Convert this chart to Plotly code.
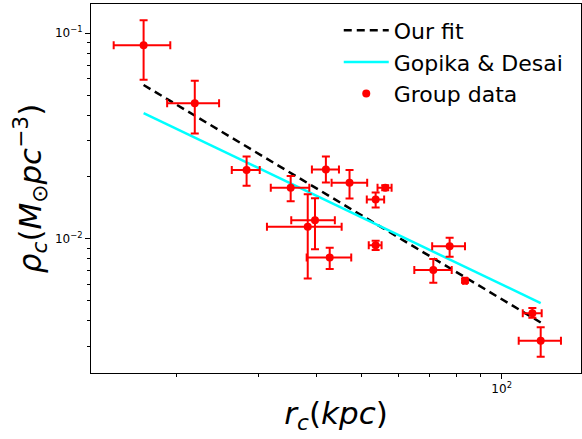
import plotly.graph_objects as go

# ---- data (log-log) ----
r_c = [17.0, 21.9, 28.3, 35.2, 41.9, 47.1, 56.2, 53.6, 38.3, 39.7, 42.7, 53.6, 77.3, 71.3, 83.4, 116.4, 121.3]
r_lo = [14.66, 19.1, 26.3, 31.9, 39.1, 43.1, 54.1, 51.3, 31.3, 35.3, 38.1, 51.8, 70.9, 64.9, 82.6, 111.0, 108.8]
r_hi = [19.4, 24.7, 30.2, 38.6, 44.7, 51.4, 58.0, 55.9, 45.3, 43.8, 47.5, 55.2, 83.4, 78.1, 84.2, 121.9, 134.1]
rho = [0.0874, 0.0456, 0.0216, 0.0177, 0.0217, 0.0187, 0.0177, 0.0155, 0.01144, 0.0123, 0.00811, 0.00929, 0.00918, 0.00704, 0.00624, 0.00434, 0.00319]
rho_lo = [0.0594, 0.0325, 0.0181, 0.0152, 0.0188, 0.0157, 0.0172, 0.0142, 0.00641, 0.00888, 0.00712, 0.00881, 0.00817, 0.0061, 0.0061, 0.00412, 0.00266]
rho_hi = [0.1157, 0.0588, 0.0251, 0.0202, 0.0251, 0.0216, 0.0182, 0.0168, 0.01647, 0.01574, 0.00904, 0.00978, 0.01011, 0.00796, 0.0064, 0.0046, 0.00371]

fit_x = [17.0, 121.3]
fit_y = [0.056, 0.00391]
gd_x = [17.0, 121.3]
gd_y = [0.0409, 0.00486]

x_minor = [20, 30, 40, 50, 60, 70, 80, 90]
y_minor = [0.003, 0.004, 0.005, 0.006, 0.007, 0.008, 0.009, 0.02, 0.03, 0.04, 0.05, 0.06, 0.07, 0.08, 0.09]

ex_plus = [h - v for h, v in zip(r_hi, r_c)]
ex_minus = [v - l for l, v in zip(r_lo, r_c)]
ey_plus = [h - v for h, v in zip(rho_hi, rho)]
ey_minus = [v - l for l, v in zip(rho_lo, rho)]

FONT = "DejaVu Sans"

fig = go.Figure()
fig.add_trace(go.Scatter(x=fit_x, y=fit_y, mode="lines", name="Our fit",
                         line=dict(color="black", width=2.5, dash="8px,5px")))
fig.add_trace(go.Scatter(x=gd_x, y=gd_y, mode="lines", name="Gopika & Desai",
                         line=dict(color="#00FFFF", width=2.5)))
fig.add_trace(go.Scatter(x=r_c, y=rho, mode="markers", name="Group data",
                         marker=dict(color="red", size=8),
                         error_x=dict(type="data", array=ex_plus, arrayminus=ex_minus,
                                      color="red", thickness=2, width=4),
                         error_y=dict(type="data", array=ey_plus, arrayminus=ey_minus,
                                      color="red", thickness=2, width=4)))

fig.update_layout(
    width=582, height=439,
    margin=dict(l=91, r=1, t=4, b=66),
    paper_bgcolor="white", plot_bgcolor="white",
    font=dict(family=FONT, color="black"),
    showlegend=True,
    legend=dict(x=0.975, y=0.985, xanchor="right", yanchor="top",
                font=dict(size=22, family=FONT), bgcolor="rgba(0,0,0,0)",
                itemwidth=45, tracegroupgap=2),
)

fig.update_xaxes(
    type="log", range=[1.1174, 2.1705],
    showline=True, linecolor="black", linewidth=1, mirror=True,
    showgrid=False, zeroline=False,
    ticks="outside", ticklen=5, tickcolor="black",
    tickmode="array", tickvals=[100], ticktext=["10<sup>2</sup>"],
    tickfont=dict(size=12, family=FONT),
    minor=dict(tickmode="array", tickvals=x_minor, ticks="outside", ticklen=3,
               tickcolor="black", showgrid=False),
    title=dict(text="<i>r</i><sub><i>c</i></sub>(<i>kpc</i>)", font=dict(size=31, family=FONT),
               standoff=6),
)
fig.update_yaxes(
    type="log", range=[-2.6537, -0.8576],
    showline=True, linecolor="black", linewidth=1, mirror=True,
    showgrid=False, zeroline=False,
    ticks="outside", ticklen=5, tickcolor="black",
    tickmode="array", tickvals=[0.01, 0.1], ticktext=["10<sup>−2</sup>", "10<sup>−1</sup>"],
    tickfont=dict(size=12, family=FONT),
    minor=dict(tickmode="array", tickvals=y_minor, ticks="outside", ticklen=3,
               tickcolor="black", showgrid=False),
    title=dict(text="<i>ρ</i><sub><i>c</i></sub>(<i>M</i><sub>⊙</sub><i>pc</i><sup>−3</sup>)",
               font=dict(size=31, family=FONT), standoff=4),
)

fig.write_html("out.html")
